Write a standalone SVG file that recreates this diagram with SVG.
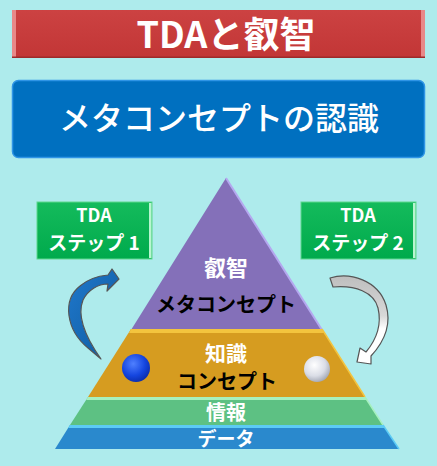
<svg xmlns="http://www.w3.org/2000/svg" width="437" height="466" viewBox="0 0 437 466">
<defs>
<style>
.t{font-family:"Noto Sans CJK JP","Noto Sans",sans-serif;text-anchor:middle}
.w{fill:#ffffff}
.k{fill:#000000}
.b{font-weight:700}
.arrow{stroke:#555555;stroke-width:1.2;stroke-linejoin:round}
</style>
<linearGradient id="redg" x1="0" y1="0" x2="0" y2="1">
<stop offset="0" stop-color="#CC4242"/><stop offset="1" stop-color="#C23636"/>
</linearGradient>
<linearGradient id="grn" x1="0" y1="0" x2="0" y2="1">
<stop offset="0" stop-color="#14BB5C"/><stop offset="1" stop-color="#00AA4C"/>
</linearGradient>
<linearGradient id="bluearrow" x1="0" y1="0" x2="1" y2="1">
<stop offset="0" stop-color="#1F78CC"/><stop offset="1" stop-color="#0F5A9E"/>
</linearGradient>
<linearGradient id="greyarrow" x1="0" y1="0" x2="0" y2="1">
<stop offset="0" stop-color="#BEBEBE"/><stop offset="0.45" stop-color="#D8D8D8"/><stop offset="0.6" stop-color="#FFFFFF"/><stop offset="1" stop-color="#FFFFFF"/>
</linearGradient>
<radialGradient id="bball" cx="0.4" cy="0.35" r="0.7">
<stop offset="0" stop-color="#4F80FF"/><stop offset="0.6" stop-color="#1546E0"/><stop offset="1" stop-color="#0A2BA8"/>
</radialGradient>
<radialGradient id="wball" cx="0.4" cy="0.35" r="0.7">
<stop offset="0" stop-color="#FFFFFF"/><stop offset="0.6" stop-color="#DADDE6"/><stop offset="1" stop-color="#9EA3B0"/>
</radialGradient>
</defs>
<rect width="437" height="466" fill="#AEEBEC"/>

<g id="title">
<rect x="12" y="10" width="413" height="48" fill="url(#redg)"/>
<rect x="12" y="10" width="4" height="48" fill="#E88888"/>
<rect x="421" y="10" width="4" height="48" fill="#E88888"/>
<rect x="12" y="56.5" width="413" height="1.5" fill="#9E2A2A"/>
<text class="t w b" x="226" y="48" font-size="36">TDAと叡智</text>
</g>

<g id="meta">
<rect x="12.5" y="80.5" width="412" height="77" rx="6" fill="#0070C0" stroke="#2F95E6" stroke-width="1.5"/>
<text class="t w" x="219" y="130" font-size="32" font-weight="500">メタコンセプトの認識</text>
</g>

<g id="step1">
<rect x="37" y="202" width="115" height="57" fill="url(#grn)" stroke="#5ED88E" stroke-width="1"/>
<rect x="149" y="203" width="2.5" height="55" fill="#B8F5D0"/>
<text class="t w b" x="94" y="222" font-size="18">TDA</text>
<text class="t w b" x="94" y="250" font-size="19">ステップ 1</text>
</g>

<g id="step2">
<rect x="301" y="202" width="115" height="57" fill="url(#grn)" stroke="#5ED88E" stroke-width="1"/>
<rect x="413" y="203" width="2.5" height="55" fill="#B8F5D0"/>
<text class="t w b" x="358" y="222" font-size="18">TDA</text>
<text class="t w b" x="358" y="250" font-size="19">ステップ 2</text>
</g>

<g id="pyramid">
<g id="layer-wisdom">
<polygon points="226,178 131,330 322,330" fill="#8470B9"/>
<polyline points="226,178 322,330" fill="none" stroke="#B4A8F0" stroke-width="2"/>
<text class="t w b" x="226" y="276" font-size="22">叡智</text>
<text class="t k b" x="226" y="312" font-size="20">メタコンセプト</text>
</g>
<g id="layer-knowledge">
<polygon points="131,329 322,329 365,397 88,397" fill="#D69C20"/>
<polygon points="131,329 322,329 324,333 129,333" fill="#F3C43E"/>
<polyline points="322,329 365,397" fill="none" stroke="#F3C43E" stroke-width="1.5"/>
<circle cx="136" cy="368" r="14" fill="url(#bball)"/>
<circle cx="317" cy="369" r="13" fill="url(#wball)"/>
<text class="t w b" x="226" y="361" font-size="21">知識</text>
<text class="t k b" x="227" y="389" font-size="20">コンセプト</text>
</g>
<g id="layer-info">
<polygon points="88,397 365,397 383,425 70,425" fill="#5DC183"/>
<polygon points="88,397 365,397 367,400 86,400" fill="#A6F0BE"/>
<polyline points="365,397 383,425" fill="none" stroke="#A6F0BE" stroke-width="1.5"/>
<text class="t w b" x="226" y="420" font-size="20">情報</text>
</g>
<g id="layer-data">
<polygon points="70,425 383,425 399,449 55,449" fill="#2A89CD"/>
<polygon points="70,425 383,425 385,428 68,428" fill="#5CCBF5"/>
<polyline points="383,425 399,449" fill="none" stroke="#5CCBF5" stroke-width="1.5"/>
<text class="t w b" x="226" y="446" font-size="19">データ</text>
</g>
</g>

<g id="connectors">
<path class="arrow" fill="url(#bluearrow)" d="M 88,348 C 66,330 62,300 80,286 C 88,279 98,276 108,275 L 112,269 L 119,279 L 107,291 L 108,284 C 98,284 88,290 83,300 C 77,315 84,335 101,359 Z"/>
<path class="arrow" fill="url(#greyarrow)" d="M 330,278 C 350,272 378,280 386,305 C 392,325 383,343 371,356 L 371,364 L 357,362 L 360,348 L 366,352 C 376,340 382,325 378,308 C 374,292 355,285 333,287 Z"/>
</g>
</svg>
